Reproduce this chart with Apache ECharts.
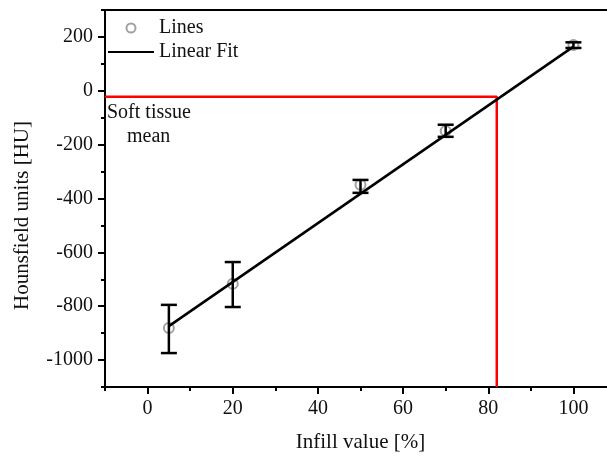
<!DOCTYPE html>
<html>
<head>
<meta charset="utf-8">
<script src="https://cdn.jsdelivr.net/npm/echarts@6/dist/echarts.min.js"></script>
<style>
  html, body { margin: 0; padding: 0; background: #fff; }
  #chart { width: 607px; height: 456px; }
</style>
</head>
<body>
<div id="chart"></div>
<script>
// measured points
var infill = [5, 20, 50, 70, 100];
var huMean = [-881, -717, -349, -149, 170];
var huLow = [-974, -803, -379, -171, 159];
var huHigh = [-795, -636, -331, -126, 180];

// linear fit end points
var fitX = [5, 100];
var fitY = [-874, 164];

// soft tissue mean marker
var softX = 82;
var softHU = -22;

var xTicks = [0, 20, 40, 60, 80, 100];
var yTicks = [-1000, -800, -600, -400, -200, 0, 200];
var xRange = [-10, 110];
var yRange = [-1100, 300];

var font = 'Liberation Serif';

var points = [];
var bars = [];
for (var i = 0; i < infill.length; i++) {
    points.push([infill[i], huMean[i]]);
    bars.push([infill[i], huLow[i], huHigh[i]]);
}
var fit = [];
for (var j = 0; j < fitX.length; j++) {
    fit.push([fitX[j], fitY[j]]);
}
var redLine = [[xRange[0], softHU], [softX, softHU], [softX, yRange[0]]];

function plain(v) {
    return String(v);
}

function axisBase(extra) {
    var a = {
        type: 'value',
        splitLine: { show: false },
        axisLine: { show: true, onZero: false, lineStyle: { color: '#000', width: 2 } },
        axisTick: { show: true, inside: false, length: 7, lineStyle: { color: '#000', width: 2 } },
        axisLabel: { color: '#111', fontFamily: font, fontSize: 20 },
        nameTextStyle: { color: '#111', fontFamily: font, fontSize: 20 }
    };
    for (var k in extra) a[k] = extra[k];
    return a;
}

var option = {
    animation: false,
    backgroundColor: '#fff',
    grid: {
        left: 105, top: 10, width: 511, height: 377,
        show: true, borderColor: '#000', borderWidth: 2,
        backgroundColor: 'transparent',
        outerBoundsMode: 'none'
    },
    legend: {
        orient: 'vertical',
        left: 107, top: 18,
        padding: 0,
        itemWidth: 46, itemHeight: 9, itemGap: 4,
        textStyle: { fontFamily: font, fontSize: 20, color: '#111' },
        data: [
            { name: 'Lines' },
            { name: 'Linear Fit', itemStyle: { opacity: 0 } }
        ]
    },
    xAxis: [
        axisBase({
            min: xRange[0], max: xRange[1],
            position: 'bottom',
            name: 'Infill value [%]', nameLocation: 'middle', nameGap: 45,
            nameTextStyle: { color: '#111', fontFamily: font, fontSize: 21 },
            axisTick: { show: true, length: 7, customValues: xTicks, lineStyle: { color: '#000', width: 2 } },
            axisLabel: { color: '#111', fontFamily: font, fontSize: 20, margin: 12, customValues: xTicks, formatter: plain }
        }),
        axisBase({
            min: xRange[0], max: xRange[1], interval: 10,
            position: 'bottom',
            axisLine: { show: false, onZero: false },
            axisTick: { show: true, length: 4, lineStyle: { color: '#000', width: 2 } },
            axisLabel: { show: false }
        })
    ],
    yAxis: [
        axisBase({
            min: yRange[0], max: yRange[1],
            position: 'left',
            name: 'Hounsfield units [HU]', nameLocation: 'middle', nameGap: 72,
            nameTextStyle: { color: '#111', fontFamily: font, fontSize: 21, padding: [0, 34, 0, 0] },
            axisTick: { show: true, length: 7, customValues: yTicks, lineStyle: { color: '#000', width: 2 } },
            axisLabel: { color: '#111', fontFamily: font, fontSize: 20, margin: 12, customValues: yTicks, formatter: plain }
        }),
        axisBase({
            min: yRange[0], max: yRange[1], interval: 100,
            position: 'left',
            axisLine: { show: false, onZero: false },
            axisTick: { show: true, length: 4, lineStyle: { color: '#000', width: 2 } },
            axisLabel: { show: false }
        })
    ],
    graphic: [
        {
            type: 'text',
            left: 107, top: 103,
            style: { text: 'Soft tissue', fontFamily: font, fontSize: 20, fill: '#111' }
        },
        {
            type: 'text',
            left: 127, top: 127,
            style: { text: 'mean', fontFamily: font, fontSize: 20, fill: '#111' }
        }
    ],
    series: [
        {
            name: 'Lines',
            type: 'scatter',
            symbol: 'emptyCircle',
            symbolSize: 10,
            itemStyle: { color: '#8a8a8a', borderWidth: 1 },
            z: 1,
            data: points
        },
        {
            name: 'errors',
            type: 'custom',
            z: 3,
            renderItem: function (params, api) {
                var x = api.value(0);
                var lo = api.coord([x, api.value(1)]);
                var hi = api.coord([x, api.value(2)]);
                var w = 8;
                var st = { stroke: '#000', lineWidth: 2.5 };
                return {
                    type: 'group',
                    children: [
                        { type: 'line', shape: { x1: lo[0], y1: lo[1], x2: hi[0], y2: hi[1] }, style: st },
                        { type: 'line', shape: { x1: lo[0] - w, y1: lo[1], x2: lo[0] + w, y2: lo[1] }, style: st },
                        { type: 'line', shape: { x1: hi[0] - w, y1: hi[1], x2: hi[0] + w, y2: hi[1] }, style: st }
                    ]
                };
            },
            encode: { x: 0, y: [1, 2] },
            data: bars
        },
        {
            name: 'Linear Fit',
            type: 'line',
            symbol: 'none',
            z: 4,
            lineStyle: { color: '#000', width: 2.5 },
            itemStyle: { color: '#000' },
            data: fit
        },
        {
            name: 'soft',
            type: 'line',
            symbol: 'none',
            z: 2,
            lineStyle: { color: '#ff0000', width: 2.5 },
            data: redLine
        }
    ]
};

var chart = echarts.init(document.getElementById('chart'));
chart.setOption(option);
</script>
</body>
</html>
